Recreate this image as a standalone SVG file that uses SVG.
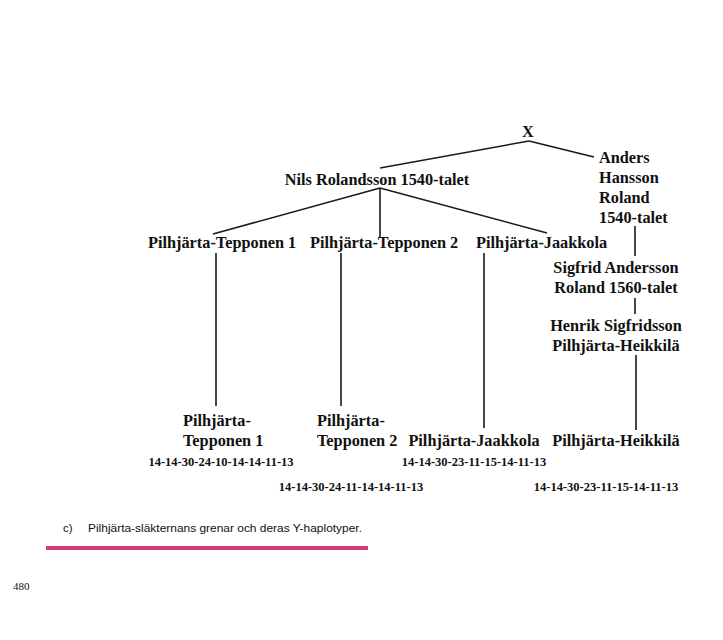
<svg xmlns="http://www.w3.org/2000/svg" width="723" height="640" viewBox="0 0 723 640">
<style>
.n{font-family:"Liberation Serif","Times New Roman",serif;font-weight:bold;font-size:16.3px;fill:#111}
.h{font-family:"Liberation Serif","Times New Roman",serif;font-weight:bold;font-size:12.5px;fill:#111}
.cap{font-family:"Liberation Sans",Arial,sans-serif;font-size:11.5px;fill:#111}
.pg{font-family:"Liberation Serif","Times New Roman",serif;font-size:11px;fill:#111}
#connectors line{stroke:#1a1a1a;stroke-width:1.6;fill:none}
</style>
<rect width="723" height="640" fill="#fff"/>
<g id="connectors">
<line x1="529" y1="141" x2="380" y2="168"/>
<line x1="529" y1="141" x2="594" y2="157"/>
<line x1="380" y1="188" x2="213" y2="234"/>
<line x1="380" y1="188" x2="380" y2="237"/>
<line x1="380" y1="188" x2="547" y2="233"/>
<line x1="216" y1="253" x2="216" y2="406"/>
<line x1="341" y1="253" x2="341" y2="406"/>
<line x1="484" y1="253" x2="484" y2="428"/>
<line x1="635" y1="226" x2="635" y2="256"/>
<line x1="635" y1="298" x2="635" y2="314"/>
<line x1="636" y1="355" x2="636" y2="430"/>
</g>
<g id="x"><text class="n" x="528" y="137" text-anchor="middle">X</text></g>
<g id="nils"><text class="n" x="377" y="185" text-anchor="middle">Nils Rolandsson 1540-talet</text></g>
<g id="anders">
<text class="n" x="599" y="163">Anders</text>
<text class="n" x="599" y="183">Hansson</text>
<text class="n" x="599" y="203">Roland</text>
<text class="n" x="599" y="223">1540-talet</text>
</g>
<g id="tepponen1"><text class="n" x="148" y="248">Pilhjärta-Tepponen 1</text></g>
<g id="tepponen2"><text class="n" x="310" y="248">Pilhjärta-Tepponen 2</text></g>
<g id="jaakkola"><text class="n" x="476" y="248">Pilhjärta-Jaakkola</text></g>
<g id="sigfrid">
<text class="n" x="616" y="273" text-anchor="middle">Sigfrid Andersson</text>
<text class="n" x="616" y="293" text-anchor="middle">Roland 1560-talet</text>
</g>
<g id="henrik">
<text class="n" x="616" y="331" text-anchor="middle">Henrik Sigfridsson</text>
<text class="n" x="616" y="351" text-anchor="middle">Pilhjärta-Heikkilä</text>
</g>
<g id="leaf-tepponen1">
<text class="n" x="183" y="426">Pilhjärta-</text>
<text class="n" x="183" y="446">Tepponen 1</text>
<text class="h" x="221" y="466" text-anchor="middle">14-14-30-24-10-14-14-11-13</text>
</g>
<g id="leaf-tepponen2">
<text class="n" x="317" y="426">Pilhjärta-</text>
<text class="n" x="317" y="446">Tepponen 2</text>
<text class="h" x="351" y="491" text-anchor="middle">14-14-30-24-11-14-14-11-13</text>
</g>
<g id="leaf-jaakkola">
<text class="n" x="474" y="446" text-anchor="middle">Pilhjärta-Jaakkola</text>
<text class="h" x="474" y="466" text-anchor="middle">14-14-30-23-11-15-14-11-13</text>
</g>
<g id="leaf-heikkila">
<text class="n" x="616" y="446" text-anchor="middle">Pilhjärta-Heikkilä</text>
<text class="h" x="606" y="491" text-anchor="middle">14-14-30-23-11-15-14-11-13</text>
</g>
<g id="caption">
<text class="cap" x="63" y="532">c)</text>
<text class="cap" x="88" y="532" textLength="274" lengthAdjust="spacingAndGlyphs">Pilhjärta-släkternans grenar och deras Y-haplotyper.</text>
<rect x="46" y="546" width="322" height="4" fill="#d23a78"/>
</g>
<text class="pg" x="13" y="590">480</text>
</svg>
